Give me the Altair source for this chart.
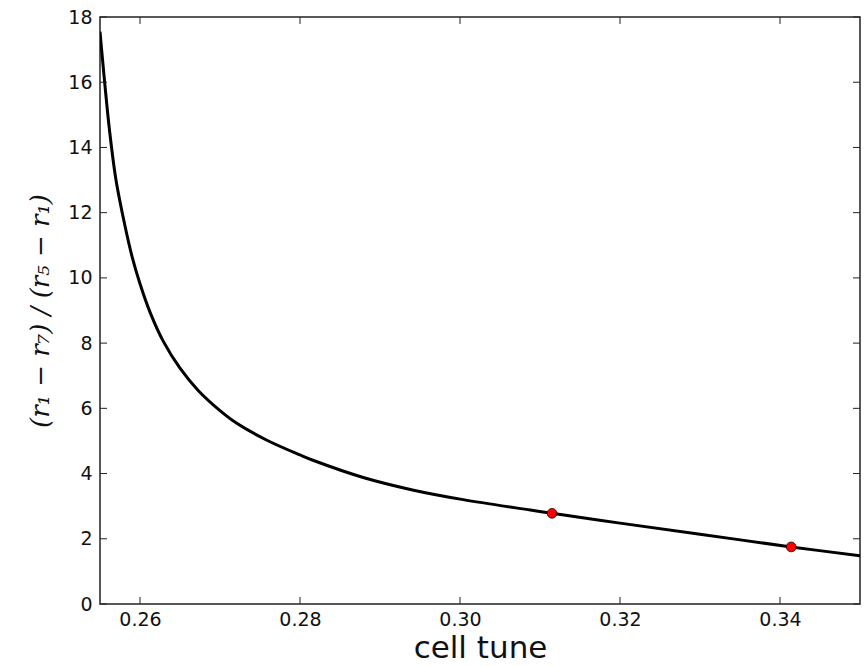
import altair as alt
import pandas as pd

# curve values
tune = [0.2550, 0.2552, 0.2556, 0.2562, 0.2570, 0.2581, 0.2590, 0.2600,
        0.2613, 0.2629, 0.2650, 0.2673, 0.2700, 0.2721, 0.2758, 0.2800,
        0.2817, 0.2879, 0.2942, 0.3004, 0.3088, 0.3115, 0.3200, 0.3300,
        0.3414, 0.3500]
ratio = [17.55, 17.00, 15.95, 14.50, 13.00, 11.62, 10.66, 9.82,
         8.92, 8.06, 7.23, 6.54, 5.93, 5.54, 5.03, 4.57,
         4.40, 3.88, 3.49, 3.20, 2.88, 2.78, 2.48, 2.14,
         1.75, 1.48]

# highlighted points
pt_tune = [0.3115, 0.3414]
pt_ratio = [2.78, 1.75]

x_ticks = [0.26, 0.28, 0.30, 0.32, 0.34]
y_ticks = [0, 2, 4, 6, 8, 10, 12, 14, 16, 18]

W, H = 760, 587
TL = 7

curve = pd.DataFrame({"tune": tune, "ratio": ratio})
pts = pd.DataFrame({"tune": pt_tune, "ratio": pt_ratio})
xt = pd.DataFrame({"t": x_ticks})
yt = pd.DataFrame({"t": y_ticks})

xscale = alt.Scale(domain=[0.255, 0.35], nice=False, zero=False)
yscale = alt.Scale(domain=[0, 18], nice=False)

xaxis = alt.Axis(values=x_ticks, format=".2f", ticks=False, domain=False, grid=False,
                 labelFont="DejaVu Sans", labelFontSize=19, labelColor="#111111",
                 labelPadding=6, title="cell tune", titleFont="DejaVu Sans",
                 titleFontSize=31, titleFontWeight="normal", titleColor="#111111",
                 titlePadding=4)
yaxis = alt.Axis(values=y_ticks, format="d", ticks=False, domain=False, grid=False,
                 labelFont="DejaVu Sans", labelFontSize=19, labelColor="#111111",
                 labelPadding=8, title="(r₁ − r₇) / (r₅ − r₁)", titleFont="DejaVu Serif",
                 titleFontStyle="italic", titleFontSize=26, titleFontWeight="normal",
                 titleColor="#111111", titlePadding=14)

line = alt.Chart(curve).mark_line(color="black", strokeWidth=3, interpolate="catmull-rom",
                                  clip=True).encode(
    x=alt.X("tune:Q", scale=xscale, axis=xaxis),
    y=alt.Y("ratio:Q", scale=yscale, axis=yaxis),
)

dots = alt.Chart(pts).mark_point(filled=True, fill="#ff0000", stroke="#220000",
                                 strokeWidth=0.8, size=95, opacity=1, shape="circle").encode(
    x=alt.X("tune:Q", scale=xscale),
    y=alt.Y("ratio:Q", scale=yscale),
)

tick_style = dict(color="#222222", strokeWidth=1)
bx = alt.Chart(xt).mark_rule(**tick_style).encode(
    x=alt.X("t:Q", scale=xscale), y=alt.value(H), y2=alt.value(H - TL))
tx = alt.Chart(xt).mark_rule(**tick_style).encode(
    x=alt.X("t:Q", scale=xscale), y=alt.value(0), y2=alt.value(TL))
ly = alt.Chart(yt).mark_rule(**tick_style).encode(
    y=alt.Y("t:Q", scale=yscale), x=alt.value(0), x2=alt.value(TL))
ry = alt.Chart(yt).mark_rule(**tick_style).encode(
    y=alt.Y("t:Q", scale=yscale), x=alt.value(W), x2=alt.value(W - TL))

chart = alt.layer(line, bx, tx, ly, ry, dots).properties(
    width=W, height=H,
    autosize=alt.AutoSizeParams(type="none"),
    padding={"left": 100, "top": 17, "right": 6, "bottom": 62},
    background="white",
).configure_view(stroke="#222222", strokeWidth=1.5)

chart.save("out.html", embed_options={"renderer": "svg", "actions": False})
